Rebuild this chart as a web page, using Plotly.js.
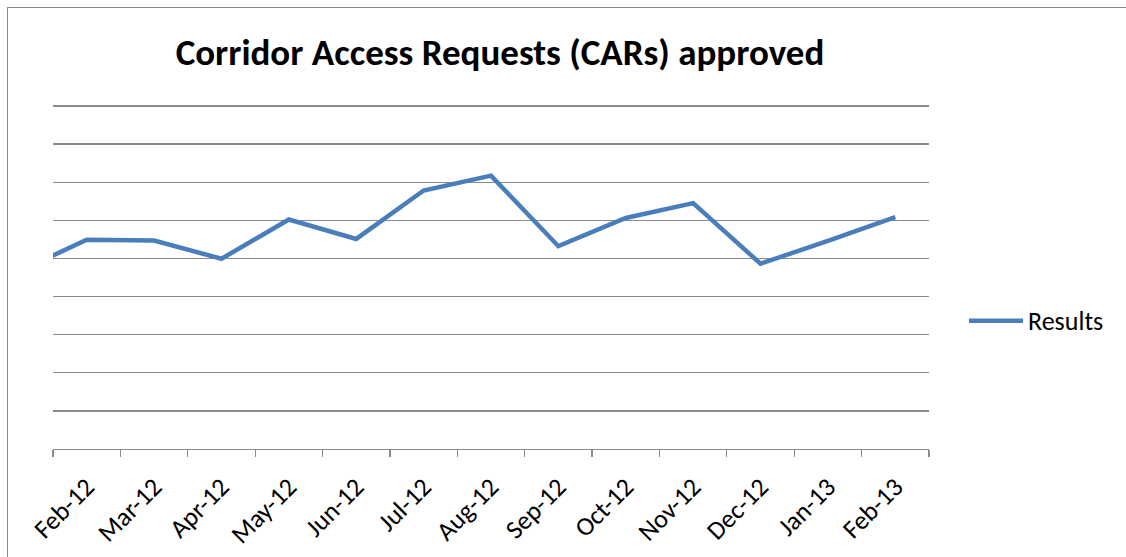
<!DOCTYPE html>
<html>
<head>
<meta charset="utf-8">
<script src="https://cdn.plot.ly/plotly-3.0.1.min.js"></script>
<style>
  html, body { margin: 0; padding: 0; background: #ffffff; overflow: hidden; }
  #chart { position: absolute; left: 0; top: 0; width: 1126px; height: 557px; }
  #frame { position: absolute; left: 7px; top: 7px; width: 2000px; height: 2000px;
           border-left: 1.5px solid #8a8a8a; border-top: 1.5px solid #8a8a8a;
           pointer-events: none; box-sizing: border-box; }
</style>
</head>
<body>
<div id="chart"></div>
<div id="frame"></div>
<script>
// Months (first one lies just before the visible range; only its segment enters the plot)
const months = ["Jan-12", "Feb-12", "Mar-12", "Apr-12", "May-12", "Jun-12", "Jul-12",
                "Aug-12", "Sep-12", "Oct-12", "Nov-12", "Dec-12", "Jan-13", "Feb-13"];
// Approved CARs (estimated; the reference has no y-axis labels)
const results = [46.6, 54.9, 54.7, 49.9, 60.2, 55.1, 67.8, 71.7, 53.2, 60.6, 64.5, 48.6, 54.6, 60.8];
const seriesName = "Results";
const chartTitle = "Corridor Access Requests (CARs) approved";

const FONT = "Carlito, Lato, 'Open Sans', sans-serif";
const GRID = "#8a8a8a";
const BLUE = "#4a7ebb";

const W = 1126, H = 557;
const M = { l: 53, r: 197, t: 104, b: 108 };
const plotW = W - M.l - M.r, plotH = H - M.t - M.b;
const px2paperX = (px) => (px - M.l) / plotW;
const px2paperY = (py) => (H - M.b - py) / plotH;

const trace = {
  type: "scatter",
  mode: "lines",
  x: months,
  y: results,
  name: seriesName,
  line: { color: BLUE, width: 4.5 },
  hoverinfo: "x+y",
  showlegend: false
};

const legendY = px2paperY(320.7);

const layout = {
  width: W,
  height: H,
  margin: { l: M.l, r: M.r, t: M.t, b: M.b, pad: 0 },
  paper_bgcolor: "#ffffff",
  plot_bgcolor: "#ffffff",
  font: { family: FONT, size: 26, color: "#000000" },
  title: {
    text: "<b>" + chartTitle + "</b>",
    font: { family: FONT, size: 37, color: "#000000" },
    xref: "container", x: 500 / W, xanchor: "center",
    yref: "container", y: 1 - 52 / H, yanchor: "middle"
  },
  xaxis: {
    type: "category",
    range: [0.5, 13.5],
    tickson: "boundaries",
    ticks: "outside",
    ticklen: 7,
    tickwidth: 1.3,
    tickcolor: GRID,
    tickangle: -45,
    ticklabelstandoff: 11,
    tickfont: { family: FONT, size: 26, color: "#000000" },
    showline: true,
    linecolor: GRID,
    linewidth: 1.3,
    showgrid: false,
    zeroline: false,
    fixedrange: true
  },
  yaxis: {
    range: [0, 90.5],
    dtick: 10,
    tick0: 0,
    showticklabels: false,
    ticks: "",
    showgrid: true,
    gridcolor: GRID,
    gridwidth: 1.3,
    zeroline: false,
    showline: false,
    fixedrange: true
  },
  showlegend: false,
  shapes: [{
    // legend line sample
    type: "line", xref: "paper", yref: "paper",
    x0: px2paperX(969), x1: px2paperX(1023),
    y0: legendY, y1: legendY,
    line: { color: BLUE, width: 4.5 },
    layer: "above"
  }],
  annotations: [{
    // legend label
    text: seriesName,
    xref: "paper", yref: "paper",
    x: px2paperX(1026), xanchor: "left",
    y: legendY, yanchor: "middle",
    showarrow: false,
    font: { family: FONT, size: 26, color: "#000000" }
  }]
};

Plotly.newPlot("chart", [trace], layout, { displayModeBar: false, staticPlot: true });
</script>
</body>
</html>
